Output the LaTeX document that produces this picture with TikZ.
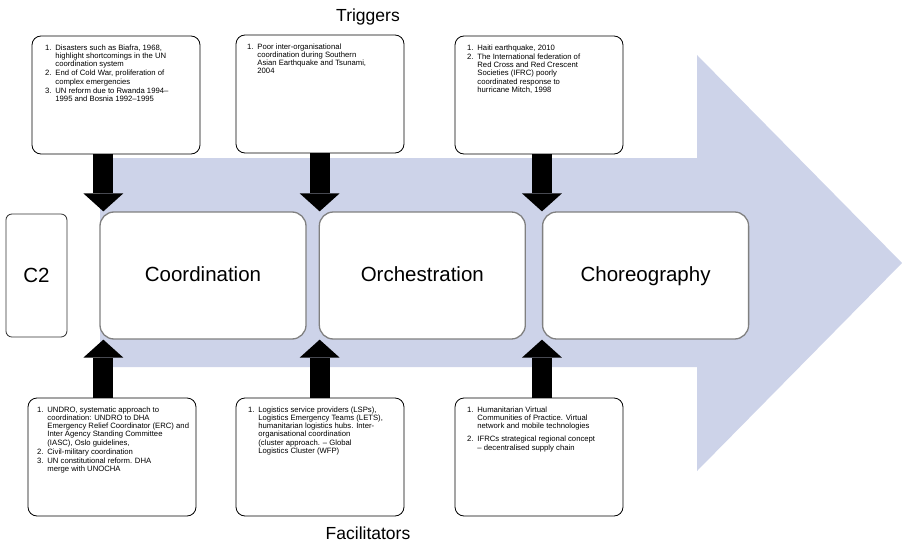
\documentclass[tikz,border=0pt]{standalone}
\usepackage{fontspec}
\setmainfont{Liberation Sans}
\usetikzlibrary{arrows.meta, positioning}
\definecolor{flow}{RGB}{205,211,233}
\tikzstyle{stage}=[draw=gray, line width=1.3pt, fill=white, rounded corners=14pt, minimum width=206pt, minimum height=127pt, text height=15pt, text depth=4pt, font=\fontsize{20.5}{24}\selectfont]
\tikzstyle{note}=[draw, line width=0.8pt, fill=white, rounded corners=9pt, inner xsep=9pt, inner ysep=9pt, font=\fontsize{7.7}{8.1}\selectfont]
\tikzstyle{push}=[line width=20pt, -{Triangle[width=40pt,length=18pt,line width=0pt]}]
\tikzstyle{heading}=[font=\fontsize{17.5}{20}\selectfont]
\newcommand{\notelist}[2]{\parbox[c][100pt][t]{150pt}{\hspace*{#1}\begin{tabular}[t]{@{}l@{\hspace{4pt}}l@{}}#2\end{tabular}}}

\begin{document}
\begin{tikzpicture}[x=1pt, y=-1pt]
  \useasboundingbox (0,0) rectangle (902,543);
  \fill[flow] (100,158) -- (697,158) -- (697,55) -- (902,263) -- (697,471) -- (697,367) -- (100,367) -- cycle;

  \node[stage] (c1) at (203,275.5) {Coordination};
  \node[stage] (c2) [right=12pt of c1] {Orchestration};
  \node[stage] (c3) [right=16pt of c2] {Choreography};
  \node[draw=black!80, line width=0.8pt, rounded corners=6pt, minimum width=61pt, minimum height=123pt, font=\fontsize{20.5}{24}\selectfont] (c0) [left=32pt of c1] {C2};

  \node[heading] (trig) at (368,17) {Triggers};
  \node[heading] (fac) at (368,533) {Facilitators};

  \node[note] (t1) at (116,95) {\notelist{4pt}{%
    1. & Disasters such as Biafra, 1968,\\
       & highlight shortcomings in the UN\\
       & coordination system\\[1pt]
    2. & End of Cold War, proliferation of\\
       & complex emergencies\\[1pt]
    3. & UN reform due to Rwanda 1994–\\
       & 1995 and Bosnia 1992–1995}};
  \node[note] (t2) at (320,94) {\notelist{2pt}{%
    1. & Poor inter-organisational\\
       & coordination during Southern\\
       & Asian Earthquake and Tsunami,\\
       & 2004}};
  \node[note] (t3) at (539,95) {\notelist{3pt}{%
    1. & Haiti earthquake, 2010\\[1pt]
    2. & The International federation of\\
       & Red Cross and Red Crescent\\
       & Societies (IFRC) poorly\\
       & coordinated response to\\
       & hurricane Mitch, 1998}};

  \node[note] (f1) at (112,457) {\notelist{0pt}{%
    1. & UNDRO, systematic approach to\\
       & coordination: UNDRO to DHA\\
       & Emergency Relief Coordinator (ERC) and\\
       & Inter Agency Standing Committee\\
       & (IASC), Oslo guidelines,\\[1pt]
    2. & Civil-military coordination\\[1pt]
    3. & UN constitutional reform. DHA\\
       & merge with UNOCHA}};
  \node[note] (f2) at (320,457) {\notelist{3pt}{%
    1. & Logistics service providers (LSPs),\\
       & Logistics Emergency Teams (LETS),\\
       & humanitarian logistics hubs. Inter-\\
       & organisational coordination\\
       & (cluster approach. – Global\\
       & Logistics Cluster (WFP)}};
  \node[note] (f3) at (539,457) {\notelist{3pt}{%
    1. & Humanitarian Virtual\\
       & Communities of Practice. Virtual\\
       & network and mobile technologies\\[5pt]
    2. & IFRCs strategical regional concept\\
       & – decentralised supply chain}};

  % trigger and facilitator arrows
  \coordinate (a1) at ([xshift=4pt]c1.north west);
  \coordinate (a2) at ([xshift=1pt]c2.north west);
  \coordinate (a3) at (c3.north west);
  \coordinate (b1) at ([xshift=4pt]c1.south west);
  \coordinate (b2) at ([xshift=1pt]c2.south west);
  \coordinate (b3) at (c3.south west);
  \draw[push] (a1 |- t1.south) -- (a1);
  \draw[push] (a2 |- t2.south) -- (a2);
  \draw[push] (a3 |- t3.south) -- (a3);
  \draw[push] (b1 |- f1.north) -- (b1);
  \draw[push] (b2 |- f2.north) -- (b2);
  \draw[push] (b3 |- f3.north) -- (b3);
\end{tikzpicture}
\end{document}
